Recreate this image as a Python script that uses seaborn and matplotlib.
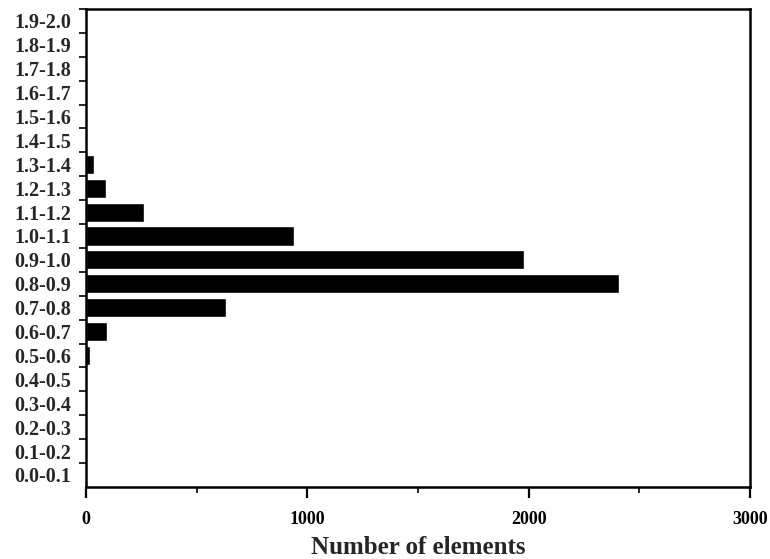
import matplotlib
matplotlib.use('Agg')
import matplotlib.pyplot as plt
import matplotlib.ticker as tick
import numpy as np
import pandas as pd
import seaborn as sns

# bins listed top to bottom as in the figure
bins = ['1.9-2.0', '1.8-1.9', '1.7-1.8', '1.6-1.7', '1.5-1.6', '1.4-1.5',
        '1.3-1.4', '1.2-1.3', '1.1-1.2', '1.0-1.1', '0.9-1.0', '0.8-0.9',
        '0.7-0.8', '0.6-0.7', '0.5-0.6', '0.4-0.5', '0.3-0.4', '0.2-0.3',
        '0.1-0.2', '0.0-0.1']
counts = [0, 0, 0, 0, 0, 2,
          35, 90, 260, 940, 1980, 2410,
          630, 95, 15, 2, 0, 0,
          0, 0]

df = pd.DataFrame({'bin': bins, 'count': counts})

sns.set_style('ticks')
plt.rcParams['font.family'] = ['Liberation Serif', 'DejaVu Serif']
plt.rcParams['font.weight'] = 'bold'

fig = plt.figure(figsize=(7.7, 5.59), dpi=100)
ax = fig.add_axes([0.112, 0.129, 0.862, 0.855])

sns.barplot(data=df, x='count', y='bin', order=bins, color='black',
            orient='h', width=0.8, saturation=1, ax=ax)

ax.set_xlim(0, 3000)
ax.set_ylim(len(bins) - 0.5, -0.5)

# x ticks: majors labelled, minors halfway between
ax.xaxis.set_major_locator(tick.MultipleLocator(1000))
ax.xaxis.set_minor_locator(tick.MultipleLocator(500))
ax.tick_params(axis='x', which='major', direction='out', length=8, width=1.6,
               labelsize=13, pad=9, colors='black')
ax.tick_params(axis='x', which='minor', direction='out', length=4, width=1.4)

# y ticks: marks at bin edges, labels at bin centres
pos = np.arange(len(bins))
ax.set_yticks(pos - 0.5, minor=False)
ax.set_yticklabels([''] * len(bins))
ax.set_yticks(pos, minor=True)
ax.set_yticklabels(bins, minor=True)
ax.tick_params(axis='y', which='major', direction='out', length=5, width=1.4)
ax.tick_params(axis='y', which='minor', length=0, labelsize=14.5, pad=11)
for t in ax.get_yticklabels(minor=True):
    t.set_fontweight('bold')
for t in ax.get_xticklabels():
    t.set_fontweight('bold')

for s in ax.spines.values():
    s.set_visible(True)
    s.set_linewidth(1.8)
    s.set_color('black')

ax.set_ylabel('')
ax.set_xlabel('Number of elements', fontsize=18, fontweight='bold', labelpad=6)

fig.savefig('out.png', dpi=100)
